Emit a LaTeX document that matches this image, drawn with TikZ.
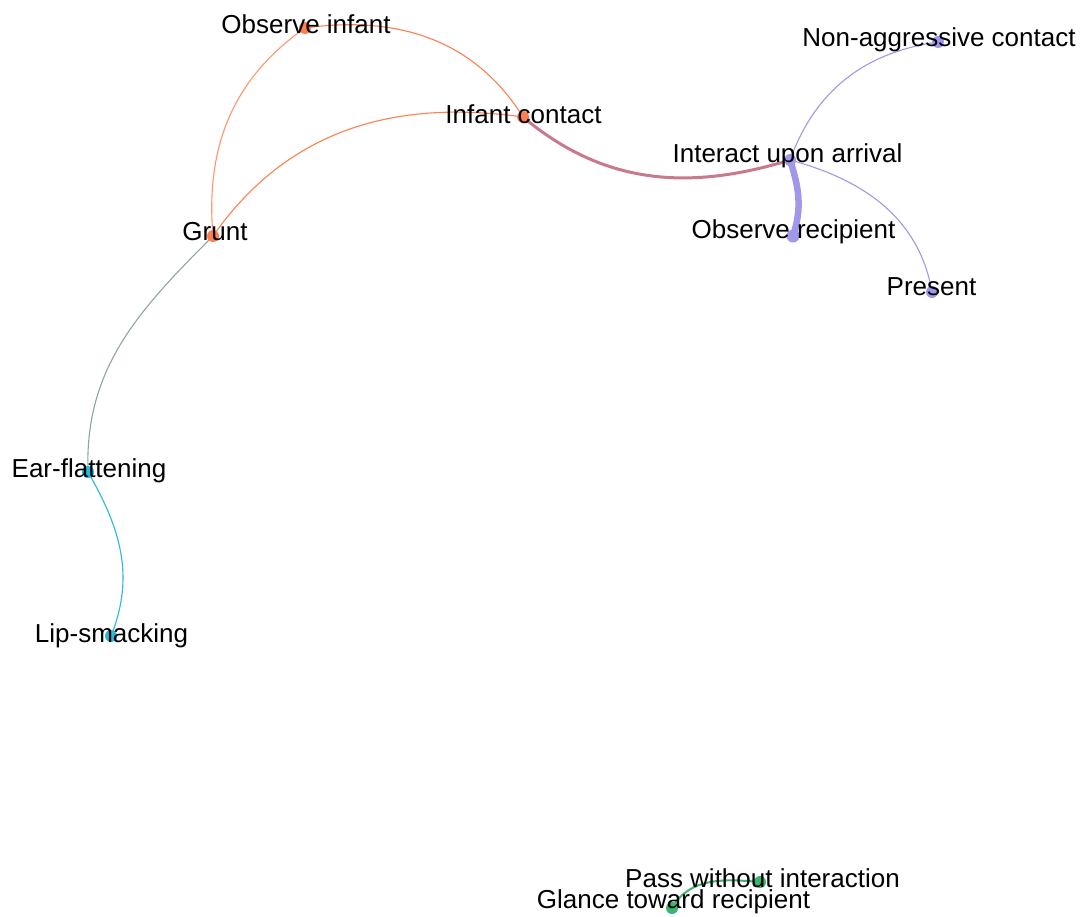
\documentclass[tikz,border=0pt]{standalone}
\usepackage{fontspec}
\setmainfont{Liberation Sans}
\definecolor{orng}{RGB}{255,127,80}
\definecolor{orngl}{RGB}{255,150,110}
\definecolor{prpl}{RGB}{160,152,232}
\definecolor{mauve}{RGB}{200,122,140}
\definecolor{graygreen}{RGB}{143,166,160}
\definecolor{cyn}{RGB}{40,185,220}
\definecolor{grn}{RGB}{60,179,113}
\begin{document}
\begin{tikzpicture}[x=1pt,y=1pt,
  dot/.style={circle,fill=#1,inner sep=0pt,minimum size=12pt},
  lbl/.style={anchor=base,inner sep=0pt,font=\fontsize{26}{30}\selectfont,text=black},
  link/.style={draw=#1,line width=1.1pt}]
\useasboundingbox (0,0) rectangle (1083,-916);
\fill[white] (0,0) rectangle (1083,-916);
% positions
\coordinate (oi) at (305,-28);
\coordinate (ic) at (523,-117);
\coordinate (iua) at (790,-160);
\coordinate (nac) at (938,-42);
\coordinate (orr) at (793,-236);
\coordinate (pr) at (932,-292);
\coordinate (gr) at (213,-236);
\coordinate (ef) at (88,-472);
\coordinate (ls) at (111,-636);
\coordinate (pw) at (760,-882);
\coordinate (gt) at (672,-908);
% edges
\draw[link=orng] (oi) to[out=8,in=122] (ic);
\draw[link=orngl] (oi) to[out=215,in=95] (gr);
\draw[link=orng] (gr) to[out=55,in=172] (ic);
\draw[link=mauve,line width=3pt] (ic) to[out=-40,in=197] (iua);
\draw[link=prpl] (iua) to[out=70,in=188] (nac);
\draw[link=prpl,line width=6.5pt] (iua) to[out=-72,in=72] (orr);
\draw[link=prpl] (iua) to[out=-15,in=100] (pr);
\draw[link=graygreen] (gr) to[out=225,in=92] (ef);
\draw[link=cyn] (ef) to[out=-60,in=68] (ls);
\draw[link=grn,line width=2pt] (pw) to[out=175,in=60] (gt);
% dots
\node[dot=orng] (oid) at (oi) {};
\node[dot=orng] (icd) at (ic) {};
\node[dot=prpl] (iuad) at (iua) {};
\node[dot=prpl] (nacd) at (nac) {};
\node[dot=prpl,minimum size=13pt] (orrd) at (orr) {};
\node[dot=prpl] (prd) at (pr) {};
\node[dot=orng] (grd) at (gr) {};
\node[dot=cyn] (efd) at (ef) {};
\node[dot=cyn] (lsd) at (ls) {};
\node[dot=grn] (pwd) at (pw) {};
\node[dot=grn] (gtd) at (gt) {};
% labels
\node[lbl] (oil) at (306,-33) {Observe infant};
\node[lbl] (icl) at (523.5,-123) {Infant contact};
\node[lbl] (iual) at (787.5,-162) {Interact upon arrival};
\node[lbl] (nacl) at (939,-46) {Non-aggressive contact};
\node[lbl] (orrl) at (793.5,-238) {Observe recipient};
\node[lbl] (prl) at (931.5,-295) {Present};
\node[lbl] (grl) at (215,-240) {Grunt};
\node[lbl] (efl) at (89,-477) {Ear-flattening};
\node[lbl] (lsl) at (111.5,-642) {Lip-smacking};
\node[lbl] (pwl) at (762.5,-887) {Pass without interaction};
\node[lbl] (gtl) at (673.5,-908) {Glance toward recipient};
\end{tikzpicture}
\end{document}
